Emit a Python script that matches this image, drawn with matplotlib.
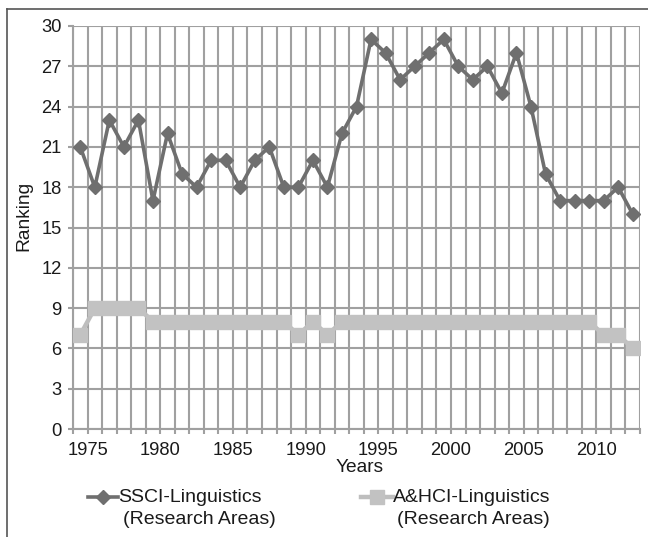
import matplotlib
matplotlib.use("Agg")
import matplotlib.pyplot as plt
from matplotlib.lines import Line2D

plt.rcParams['font.family'] = ['Liberation Sans', 'DejaVu Sans']

years = [1975, 1976, 1977, 1978, 1979, 1980, 1981, 1982, 1983, 1984,
         1985, 1986, 1987, 1988, 1989, 1990, 1991, 1992, 1993, 1994,
         1995, 1996, 1997, 1998, 1999, 2000, 2001, 2002, 2003, 2004,
         2005, 2006, 2007, 2008, 2009, 2010, 2011, 2012, 2013]
ssci = [21, 18, 23, 21, 23, 17, 22, 19, 18, 20,
        20, 18, 20, 21, 18, 18, 20, 18, 22, 24,
        29, 28, 26, 27, 28, 29, 27, 26, 27, 25,
        28, 24, 19, 17, 17, 17, 17, 18, 16]
ahci = [7, 9, 9, 9, 9, 8, 8, 8, 8, 8,
        8, 8, 8, 8, 8, 7, 8, 7, 8, 8,
        8, 8, 8, 8, 8, 8, 8, 8, 8, 8,
        8, 8, 8, 8, 8, 8, 7, 7, 6]
label_years = [1975, 1980, 1985, 1990, 1995, 2000, 2005, 2010]
yticks = [0, 3, 6, 9, 12, 15, 18, 21, 24, 27, 30]
series_labels = ["SSCI-Linguistics\n(Research Areas)", "A&HCI-Linguistics\n(Research Areas)"]

W, H = 648, 537
fig = plt.figure(figsize=(W / 100, H / 100), dpi=100)
ax = fig.add_axes([73 / W, 1 - 429 / H, (640 - 73) / W, (429 - 26) / H])

grid_c = '#a0a0a0'
dark = '#6f6f6f'
light = '#bebebe'
txt = '#1a1a1a'
tick_fs = 13.2
lab_fs = 13.8
leg_fs = 14.0

n = len(years)
xpos = [i + 0.5 for i in range(n)]

ax.plot(xpos, ahci, color=light, lw=3.2, marker='s', ms=10.2,
        mfc='#c2c2c2', mec='#c2c2c2', zorder=3, solid_joinstyle='miter')
ax.plot(xpos, ssci, color=dark, lw=2.6, marker='D', ms=6.8,
        mfc=dark, mec=dark, zorder=4)

ax.set_xlim(0, n)
ax.set_ylim(0, 30)
ax.set_xticks(range(n + 1), minor=True)
ax.set_xticks([years.index(y) + 1 for y in label_years])
ax.set_xticklabels([str(y) for y in label_years])
ax.set_yticks(yticks)
ax.set_yticklabels([str(v) for v in yticks])

ax.grid(True, which='minor', axis='x', color=grid_c, lw=1.5)
ax.grid(True, which='major', axis='y', color=grid_c, lw=1.5)
ax.grid(True, which='major', axis='x', color=grid_c, lw=1.5)
ax.set_axisbelow(True)

for s in ['top', 'right']:
    ax.spines[s].set_visible(False)
for s in ['left', 'bottom']:
    ax.spines[s].set_color(grid_c)
    ax.spines[s].set_linewidth(1.5)

ax.tick_params(axis='both', which='both', color=grid_c, width=1.5, length=3.8,
               labelsize=tick_fs, labelcolor=txt)
ax.tick_params(axis='x', which='major', pad=5.5)
ax.tick_params(axis='y', which='major', pad=4.5)

fig.text(360 / W, 1 - 468 / H, "Years", ha='center', va='center', fontsize=lab_fs, color=txt)
fig.text(24 / W, 1 - 216 / H, "Ranking", ha='center', va='center', rotation=90,
         fontsize=lab_fs, color=txt)

# legend (manual)
def legend_entry(x0, x1, xt, xt2, color, marker, ms, mcolor, lw, label):
    yc = 1 - 497 / H
    fig.add_artist(Line2D([x0 / W, x1 / W], [yc, yc], color=color, lw=lw,
                          transform=fig.transFigure))
    fig.add_artist(Line2D([(x0 + x1) / 2 / W], [yc], color=color, marker=marker,
                          ms=ms, mfc=mcolor, mec=mcolor, lw=0,
                          transform=fig.transFigure))
    l1, l2 = label.split("\n")
    fig.text(xt / W, yc, l1, ha='left', va='center', fontsize=leg_fs, color=txt)
    fig.text(xt2 / W, 1 - 519 / H, l2, ha='left', va='center', fontsize=leg_fs, color=txt)

legend_entry(88, 118, 118, 123, dark, 'D', 6.8, dark, 2.6, series_labels[0])
legend_entry(361, 393, 393, 397, light, 's', 10.2, '#c2c2c2', 3.2, series_labels[1])

# outer frame (top and left)
fig.add_artist(Line2D([7 / W, 1.0], [1 - 9 / H, 1 - 9 / H], color='#555555', lw=1.2,
                      transform=fig.transFigure))
fig.add_artist(Line2D([7 / W, 7 / W], [1 - 9 / H, 0.0], color='#555555', lw=1.2,
                      transform=fig.transFigure))

fig.savefig("out.png", dpi=100)
